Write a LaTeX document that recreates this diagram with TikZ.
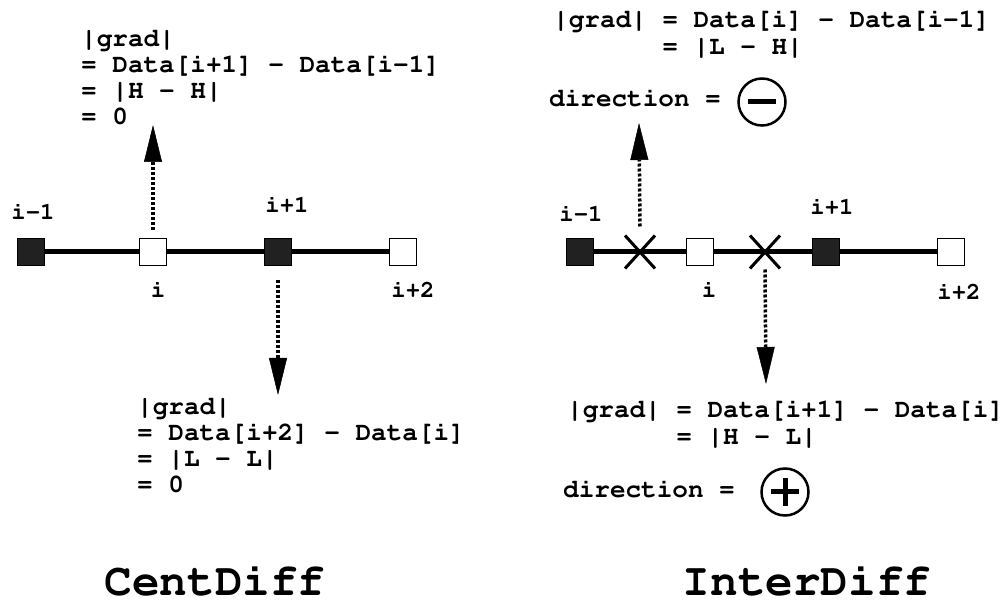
\documentclass[tikz,border=0pt]{standalone}
\usepackage[T1]{fontenc}
\renewcommand\ttdefault{pcr}
\usetikzlibrary{arrows.meta,shapes.misc}

\tikzset{
  mono/.style={font=\ttfamily\bfseries\fontsize{26}{26}\selectfont, inner sep=0pt, align=left, anchor=base west},
  idx/.style={font=\ttfamily\bfseries\fontsize{24}{24}\selectfont, inner sep=0pt, anchor=base},
  heading/.style={font=\ttfamily\bfseries\fontsize{46}{46}\selectfont, inner sep=0pt, anchor=base},
  filledbox/.style={draw, fill=black!87, minimum size=27pt, line width=1.8pt, inner sep=0pt},
  hollowbox/.style={draw, fill=white, minimum size=27pt, line width=1.8pt, inner sep=0pt},
  xmark/.style={cross out, draw, minimum width=27pt, minimum height=30pt, line width=3pt, inner sep=0pt},
  sgn/.style={circle, draw, line width=2.5pt, minimum size=47pt, inner sep=0pt},
  axis/.style={line width=5pt},
  gradarrow/.style={line width=3.5pt, dash pattern=on 3pt off 2pt, -{Triangle[length=37pt,width=18pt,line width=0.5pt]}}
}

\begin{document}
\begin{tikzpicture}[x=1pt,y=1pt]
  \useasboundingbox (0,0) rectangle (1005,-601);

  % CentDiff
  \node[filledbox] (l1) at (31,-252) {};
  \node[hollowbox] (l2) at (153,-252) {};
  \node[filledbox] (l3) at (278,-252) {};
  \node[hollowbox] (l4) at (403,-252) {};
  \draw[axis] (l1) -- (l2) -- (l3) -- (l4);
  \node[idx] (li1) at (33,-220) {i-1};
  \node[idx] (li2) at (158,-298) {i};
  \node[idx] (li3) at (287,-213) {i+1};
  \node[idx] (li4) at (413,-298) {i+2};
  \coordinate (lup) at (153,-125);
  \coordinate (ldn) at (278,-395);
  \draw[gradarrow] ([yshift=8pt]l2.north) -- (lup);
  \draw[gradarrow] ([yshift=-14pt]l3.south) -- (ldn);
  % base anchor sits on the last line
  \node[mono] (ltop) at (81,-125) {|grad|\\= Data[i+1] - Data[i-1]\\= |H - H|\\= 0};
  \node[mono] (lbot) at (137,-493) {|grad|\\= Data[i+2] - Data[i]\\= |L - L|\\= 0};
  \node[heading] (cent) at (215,-595) {CentDiff};

  % InterDiff
  \node[filledbox] (r1) at (580,-252) {};
  \node[hollowbox] (r2) at (700,-252) {};
  \node[filledbox] (r3) at (826,-252) {};
  \node[hollowbox] (r4) at (951,-252) {};
  \draw[axis] (r1) -- (r2) -- (r3) -- (r4);
  \node[xmark] (xa) at (640,-252) {};
  \node[xmark] (xb) at (765,-252) {};
  \node[idx] (ri1) at (581,-222) {i-1};
  \node[idx] (ri2) at (709,-298) {i};
  \node[idx] (ri3) at (832,-215) {i+1};
  \node[idx] (ri4) at (959,-300) {i+2};
  \coordinate (rup) at (639,-123);
  \coordinate (rdn) at (766,-384);
  \draw[gradarrow] ([yshift=9pt]xa.north) -- (rup);
  \draw[gradarrow] ([yshift=-1pt]xb.south) -- (rdn);
  \node[mono] (rtop) at (553,-55) {|grad| = Data[i] - Data[i-1]\\\hspace*{4.2em}= |L - H|};
  \node[mono] (rdirm) at (549,-107) {direction =};
  \node[sgn] (sgnm) at (762,-102) {};
  \draw[line width=5pt] ([xshift=-14pt]sgnm.center) -- ([xshift=14pt]sgnm.center);
  \node[mono] (rbot) at (567,-445) {|grad| = Data[i+1] - Data[i]\\\hspace*{4.2em}= |H - L|};
  \node[mono] (rdirp) at (563,-498) {direction =};
  \node[sgn] (sgnp) at (785,-492) {};
  \draw[line width=5pt] ([xshift=-14pt]sgnp.center) -- ([xshift=14pt]sgnp.center)
    ([yshift=-14pt]sgnp.center) -- ([yshift=14pt]sgnp.center);
  \node[heading] (inter) at (807,-595) {InterDiff};
\end{tikzpicture}
\end{document}
